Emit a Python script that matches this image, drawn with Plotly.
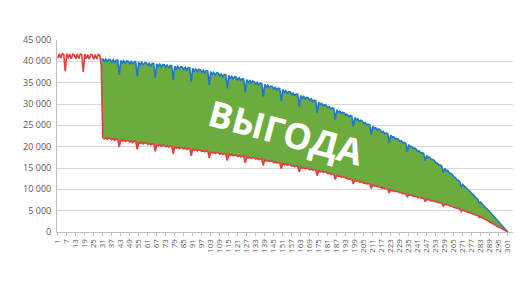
import plotly.graph_objects as go

# ---- data ----
periods = list(range(1, 302))

red_values = [
    40700, 41800, 40700, 41800, 41600, 37700, 41800, 40700, 41700, 40600,
    41700, 41500, 40600, 41700, 40600, 41700, 41600, 37500, 41700, 40600,
    41600, 40500, 41600, 41500, 40500, 41600, 40500, 41600, 41400, 39000,
    22200, 21800, 22100, 21700, 22000, 21950, 21600, 21900, 21500, 21800,
    21700, 19900, 21650, 21300, 21550, 21200, 21450, 21400, 21050, 21350,
    20950, 21250, 21200, 19350, 21100, 20750, 21000, 20650, 20900, 20850,
    20500, 20800, 20400, 20700, 20650, 18850, 20550, 20200, 20450, 20100,
    20350, 20300, 20000, 20250, 19900, 20150, 20100, 18350, 20000, 19650,
    19900, 19550, 19800, 19750, 19450, 19700, 19350, 19600, 19550, 17850,
    19450, 19100, 19350, 19000, 19250, 19200, 18850, 19100, 18750, 19000,
    18950, 17300, 18850, 18500, 18750, 18400, 18650, 18600, 18250, 18500,
    18150, 18400, 18350, 16750, 18250, 17950, 18150, 17850, 18050, 18000,
    17700, 17900, 17600, 17800, 17750, 16200, 17650, 17350, 17550, 17250,
    17450, 17400, 17100, 17300, 16950, 17150, 17100, 15550, 16950, 16650,
    16800, 16500, 16650, 16600, 16250, 16450, 16150, 16300, 16250, 14800,
    16100, 15800, 15950, 15650, 15800, 15750, 15450, 15600, 15300, 15450,
    15400, 14050, 15250, 14950, 15100, 14800, 15000, 14900, 14600, 14750,
    14500, 14650, 14550, 13250, 14400, 14100, 14250, 14000, 14100, 14000,
    13700, 13800, 13500, 13650, 13550, 12300, 13350, 13050, 13150, 12850,
    12950, 12850, 12600, 12650, 12400, 12500, 12400, 11250, 12200, 11900,
    12000, 11700, 11800, 11700, 11450, 11500, 11250, 11350, 11250, 10200,
    11050, 10800, 10850, 10600, 10650, 10550, 10300, 10350, 10150, 10200,
    10100, 9150, 9900, 9650, 9700, 9500, 9550, 9450, 9200, 9250,
    9000, 9050, 9000, 8150, 8800, 8550, 8600, 8400, 8450, 8350,
    8100, 8150, 7950, 8000, 7900, 7100, 7700, 7500, 7550, 7300,
    7350, 7250, 7050, 7050, 6850, 6850, 6750, 6100, 6580, 6400,
    6400, 6200, 6150, 6000, 5800, 5760, 5550, 5500, 5400, 4800,
    5150, 4950, 4850, 4700, 4620, 4500, 4300, 4250, 4050, 3980,
    3850, 3400, 3600, 3350, 3200, 2950, 2800, 2600, 2350, 2200,
    1950, 1800, 1600, 1300, 1200, 1000, 800, 600, 400, 200,
    0,
]

blue_start = 30
blue_values = [
    40500,
    40550, 39950, 40500, 39850, 40450, 40400, 39800, 40350, 39750, 40300,
    40250, 36800, 40200, 39600, 40150, 39500, 40100, 40050, 39450, 40000,
    39350, 39950, 39900, 36450, 39800, 39200, 39750, 39100, 39700, 39650,
    39000, 39580, 38950, 39500, 39450, 36100, 39400, 38800, 39350, 38700,
    39250, 39200, 38600, 39100, 38500, 39050, 39000, 35650, 38900, 38250,
    38800, 38200, 38700, 38670, 38050, 38580, 37950, 38500, 38450, 35150,
    38350, 37700, 38220, 37600, 38100, 38050, 37400, 37920, 37300, 37800,
    37700, 34450, 37600, 36950, 37400, 36800, 37300, 37200, 36550, 37050,
    36400, 36900, 36850, 33650, 36700, 36050, 36500, 35900, 36400, 36300,
    35650, 36150, 35500, 35950, 35850, 32750, 35700, 35050, 35500, 34900,
    35350, 35250, 34650, 35100, 34450, 34900, 34800, 31750, 34600, 34000,
    34400, 33800, 34200, 34100, 33500, 33900, 33300, 33700, 33600, 30650,
    33400, 32750, 33150, 32550, 32900, 32800, 32200, 32580, 32000, 32350,
    32250, 29400, 32000, 31400, 31800, 31200, 31550, 31430, 30850, 31200,
    30600, 30900, 30750, 28000, 30450, 29850, 30150, 29550, 29850, 29700,
    29100, 29400, 28800, 29100, 28950, 26350, 28650, 28050, 28350, 27800,
    28050, 27900, 27350, 27600, 27050, 27300, 27150, 24700, 26850, 26300,
    26550, 25950, 26200, 26000, 25450, 25650, 25100, 25300, 25150, 22850,
    24800, 24250, 24450, 23950, 24100, 23950, 23400, 23600, 23050, 23200,
    23050, 20900, 22700, 22150, 22300, 21800, 21950, 21750, 21250, 21400,
    20900, 21000, 20800, 18850, 20450, 19950, 20050, 19550, 19650, 19400,
    18900, 19000, 18500, 18600, 18350, 16600, 17950, 17450, 17500, 17050,
    17000, 16750, 16250, 16200, 15750, 15700, 15450, 13900, 14900, 14450,
    14400, 13850, 13750, 13450, 12900, 12800, 12250, 12150, 11800, 10500,
    11150, 10700, 10500, 10050, 9850, 9500, 9000, 8800, 8300, 8050,
    7700, 6750, 7000, 6500, 6250, 5800, 5500, 5100, 4650, 4350,
    3900, 3600, 3200, 2550, 2400, 1950, 1600, 1200, 800, 400,
    0,
]

x_tick_values = list(range(1, 302, 6))
y_tick_values = [0, 5000, 10000, 15000, 20000, 25000, 30000, 35000, 40000, 45000]
y_tick_labels = ["0", "5 000", "10 000", "15 000", "20 000", "25 000",
                 "30 000", "35 000", "40 000", "45 000"]
label_text = "ВЫГОДА"

# ---- styles ----
RED = "#E0403F"
BLUE = "#1E78C8"
GREEN = "#6CAC3E"
GRID = "#D9D9D9"
TICK_COLOR = "#595959"

blue_x = periods[blue_start - 1:]
red_overlap = red_values[blue_start - 1:]
assert len(blue_x) == len(blue_values) == len(red_overlap)
assert len(periods) == len(red_values)

fig = go.Figure()
# lower boundary for the fill (invisible)
fig.add_trace(go.Scatter(x=blue_x, y=red_overlap, mode="lines",
                         line=dict(width=0, color=RED), hoverinfo="skip",
                         showlegend=False))
# blue line with green fill down to the red line
fig.add_trace(go.Scatter(x=blue_x, y=blue_values, mode="lines",
                         line=dict(width=1.6, color=BLUE), fill="tonexty",
                         fillcolor=GREEN, showlegend=False))
# red line on top
fig.add_trace(go.Scatter(x=periods, y=red_values, mode="lines",
                         line=dict(width=1.6, color=RED), showlegend=False))

fig.add_annotation(text=f"<b>{label_text}</b>", xref="paper", yref="paper",
                   x=0.502, y=0.52, showarrow=False, textangle=15,
                   font=dict(family="Open Sans", size=36, color="white"))

fig.update_layout(
    width=516, height=290,
    margin=dict(l=57, r=3, t=40, b=58),
    paper_bgcolor="white", plot_bgcolor="white",
    showlegend=False,
)
fig.update_xaxes(range=[0.5, 304.5], tickmode="array", tickvals=x_tick_values,
                 ticktext=[str(v) for v in x_tick_values], tickangle=-90,
                 tickfont=dict(family="Open Sans", size=8, color=TICK_COLOR),
                 showgrid=False, zeroline=False, showline=True,
                 linecolor="#BFBFBF", linewidth=1, ticks="outside", ticklen=3,
                 tickcolor="#BFBFBF")
fig.update_yaxes(range=[0, 45000], tickmode="array", tickvals=y_tick_values,
                 ticktext=y_tick_labels,
                 tickfont=dict(family="Open Sans", size=9, color=TICK_COLOR),
                 showgrid=True, gridcolor=GRID, gridwidth=1, zeroline=False,
                 showline=True, linecolor="#BFBFBF", linewidth=1,
                 ticks="outside", ticklen=0, ticklabelstandoff=3)

fig.write_html("out.html")
